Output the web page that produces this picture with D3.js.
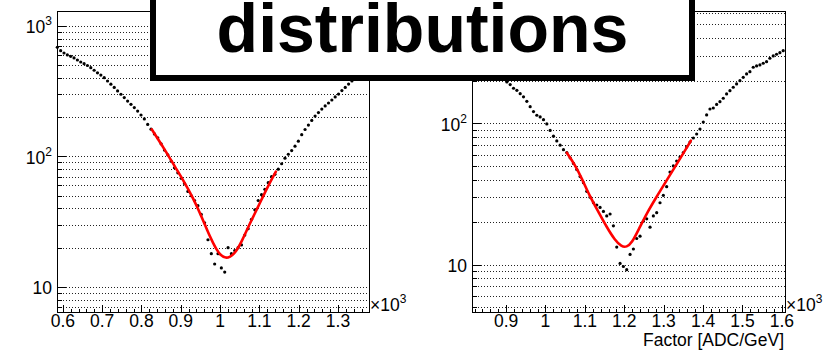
<!DOCTYPE html>
<html>
<head>
<meta charset="utf-8">
<script src="https://cdn.jsdelivr.net/npm/d3@7"></script>
<style>
  body { margin: 0; background: #fff; }
  svg { display: block; }
  text { font-family: "Liberation Sans", Arial, Helvetica, sans-serif; fill: #000; }
</style>
</head>
<body>
<svg id="chart" width="824" height="354"></svg>
<script>
// ---- left histogram (x in units of 10^3) ----
const leftX0 = 0.5858;
const leftBinW = 0.00852;
const leftCounts = [
  687, 647, 621, 600, 586, 569, 549, 530, 514, 498,
  479, 458, 438, 421, 402, 379, 358, 338, 318, 300,
  283, 266, 251, 237, 223, 208, 194, 176, 162, 149,
  139, 125, 112, 103, 92, 82, 75, 68, 62, 54,
  50, 46, 42, 36, 31, 23, 18, 15, 18, 14,
  13, 20, 18, 19, 20, 21, 25, 28, 33, 39,
  46, 51, 56, 63, 70, 73, 80, 88, 97, 104,
  111, 120, 131, 147, 161, 174, 189, 204, 217, 231,
  244, 257, 271, 286, 301, 320, 338, 359, 379, 400,
  421, 444, 468, 494
];
const leftFitX = [0.826, 0.860, 0.885, 0.906, 0.932, 0.953, 0.974, 0.991, 1.002, 1.015, 1.025, 1.038, 1.055, 1.076, 1.097, 1.119, 1.142];
const leftFitY = [161.6, 112.1, 83.5, 66.1, 47.8, 34.6, 24.3, 19.2, 17.4, 16.6, 17.0, 18.1, 22.2, 30.8, 41.2, 57.1, 76.5];
const leftXTicks = [0.6, 0.7, 0.8, 0.9, 1.0, 1.1, 1.2, 1.3];
const leftYTicks = [10, 100, 1000];

// ---- right histogram ----
const rightX0 = 0.8175;
const rightBinW = 0.00845;
const rightCounts = [
  320, 304, 290, 276, 263, 250, 238, 227, 216, 206,
  196, 188, 177, 171, 162, 154, 143, 131, 121, 114,
  111, 106, 99, 89, 81, 75, 70, 65, 62, 57,
  52, 47, 42, 38, 33, 30, 27.4, 26.4, 25.4, 23.8,
  22.1, 22.8, 18.8, 13.3, 10.2, 9.7, 9.2, 11.8, 12.9, 15.3,
  15.9, 20.3, 21.1, 18.4, 22.1, 23.3, 27.4, 30.9, 35.6, 45.2,
  49.9, 54.1, 57.7, 62.1, 68, 73.7, 78.7, 84, 91.1, 102,
  114.5, 126.2, 128.3, 135.9, 142.2, 150.3, 161.3, 170.1, 179.8, 189.8,
  200.2, 211.6, 223.4, 231.9, 249.1, 254.4, 258.6, 265.9, 272.9, 288.4,
  299.5, 307.9, 316, 326.5
];
const rightFitX = [1.054, 1.075, 1.092, 1.113, 1.134, 1.155, 1.176, 1.193, 1.206, 1.219, 1.236, 1.257, 1.282, 1.308, 1.329, 1.350, 1.369];
const rightFitY = [61.9, 50.7, 40.8, 30.2, 23.7, 18.5, 14.9, 13.4, 13.3, 14.2, 17.6, 23.1, 30.2, 39.7, 49.3, 61.3, 75.3];
const rightXTicks = [0.9, 1.0, 1.1, 1.2, 1.3, 1.4, 1.5, 1.6];
const rightYTicks = [10, 100];

const titleText = 'distributions';
const xTitle = 'Factor [ADC/GeV]';

const svg = d3.select('#chart');

const panels = [
  {
    left: 57, right: 369, top: 11, bottom: 312,
    xDomain: [0.585, 1.379], yDomain: [6.43, 1303],
    x0: leftX0, binW: leftBinW, counts: leftCounts,
    fitX: leftFitX, fitY: leftFitY,
    xTicks: leftXTicks, yTicks: leftYTicks, xTitle: null
  },
  {
    left: 472, right: 785, top: 11, bottom: 312,
    xDomain: [0.8135, 1.6079], yDomain: [4.62, 623],
    x0: rightX0, binW: rightBinW, counts: rightCounts,
    fitX: rightFitX, fitY: rightFitY,
    xTicks: rightXTicks, yTicks: rightYTicks, xTitle: xTitle
  }
];

const labelSize = 17.5;
const supSize = 12;

function drawPanel(p) {
    const x = d3.scaleLinear().domain(p.xDomain).range([p.left, p.right]);
    const y = d3.scaleLog().domain(p.yDomain).range([p.bottom, p.top]);
    const g = svg.append('g');

    // dotted horizontal grid on every log tick
    const gridVals = y.ticks().filter(v => v >= p.yDomain[0] && v <= p.yDomain[1]);
    g.append('g')
        .attr('stroke', '#222')
        .attr('stroke-width', 1)
        .attr('stroke-dasharray', '1,2')
        .attr('shape-rendering', 'crispEdges')
        .selectAll('line')
        .data(gridVals)
        .join('line')
        .attr('x1', p.left)
        .attr('x2', p.right)
        .attr('y1', d => Math.round(y(d)) + 0.5)
        .attr('y2', d => Math.round(y(d)) + 0.5);

    // histogram points
    const pts = p.counts.map((c, i) => ({ x: p.x0 + i * p.binW, y: c }));
    g.append('g')
        .selectAll('circle')
        .data(pts)
        .join('circle')
        .attr('cx', d => x(d.x))
        .attr('cy', d => y(d.y))
        .attr('r', 1.6)
        .attr('fill', '#000');

    // fit
    const fit = p.fitX.map((v, i) => [v, p.fitY[i]]);
    g.append('path')
        .datum(fit)
        .attr('fill', 'none')
        .attr('stroke', '#ff0000')
        .attr('stroke-width', 2.6)
        .attr('stroke-linecap', 'round')
        .attr('d', d3.line().x(d => x(d[0])).y(d => y(d[1])).curve(d3.curveBasis));

    // frame
    g.append('rect')
        .attr('x', p.left + 0.5)
        .attr('y', p.top + 0.5)
        .attr('width', p.right - p.left)
        .attr('height', p.bottom - p.top)
        .attr('fill', 'none')
        .attr('stroke', '#000')
        .attr('stroke-width', 1);

    // y axis ticks (inward)
    const yMinor = gridVals.filter(v => !p.yTicks.includes(v));
    const yMinorAxis = g.append('g')
        .attr('transform', `translate(${p.left + 0.5},0)`)
        .call(d3.axisLeft(y).tickValues(yMinor).tickSize(-4).tickSizeOuter(0).tickFormat(''));
    const yMajorAxis = g.append('g')
        .attr('transform', `translate(${p.left + 0.5},0)`)
        .call(d3.axisLeft(y).tickValues(p.yTicks).tickSize(-8).tickSizeOuter(0).tickFormat(''));
    [yMinorAxis, yMajorAxis].forEach(a => {
        a.select('.domain').remove();
        a.selectAll('line').attr('shape-rendering', 'crispEdges');
    });

    // y labels 10, 10^2, 10^3
    p.yTicks.forEach(v => {
        const e = Math.round(Math.log10(v));
        const t = g.append('text')
            .attr('x', p.left - 5)
            .attr('y', y(v) + 7.5)
            .attr('text-anchor', 'end')
            .attr('font-size', labelSize);
        if (e === 1) {
            t.text('10');
        } else {
            t.append('tspan').text('10');
            t.append('tspan').attr('dy', -8).attr('font-size', supSize).text(String(e));
        }
    });

    // x axis ticks (inward)
    const step = 0.02;
    const xMinor = d3.range(Math.ceil(p.xDomain[0] / step), Math.floor(p.xDomain[1] / step) + 1)
        .map(k => +(k * step).toFixed(2))
        .filter(v => !p.xTicks.some(t => Math.abs(t - v) < 1e-6));
    const xMinorAxis = g.append('g')
        .attr('transform', `translate(0,${p.bottom + 0.5})`)
        .call(d3.axisBottom(x).tickValues(xMinor).tickSize(-4).tickSizeOuter(0).tickFormat(''));
    const xMajorAxis = g.append('g')
        .attr('transform', `translate(0,${p.bottom + 0.5})`)
        .call(d3.axisBottom(x).tickValues(p.xTicks).tickSize(-8).tickSizeOuter(0).tickFormat(''));
    [xMinorAxis, xMajorAxis].forEach(a => {
        a.select('.domain').remove();
        a.selectAll('line').attr('shape-rendering', 'crispEdges');
    });

    g.append('g')
        .selectAll('text')
        .data(p.xTicks)
        .join('text')
        .attr('x', d => x(d))
        .attr('y', p.bottom + 15)
        .attr('text-anchor', 'middle')
        .attr('font-size', labelSize)
        .text(d => String(+d.toFixed(1)));

    // x10^3 multiplier
    const m = g.append('text')
        .attr('x', p.right + 1)
        .attr('y', p.bottom - 1)
        .attr('font-size', labelSize);
    m.append('tspan').text('\u00d710');
    m.append('tspan').attr('dy', -8).attr('font-size', supSize).text('3');

    if (p.xTitle) {
        g.append('text')
            .attr('x', p.right - 1)
            .attr('y', p.bottom + 34)
            .attr('text-anchor', 'end')
            .attr('font-size', 17.5)
            .text(p.xTitle);
    }
}

panels.forEach(drawPanel);

// title box over both pads
const tb = svg.append('g');
tb.append('rect')
    .attr('x', 153)
    .attr('y', -10)
    .attr('width', 539)
    .attr('height', 88)
    .attr('fill', '#fff')
    .attr('stroke', '#000')
    .attr('stroke-width', 6);
tb.append('text')
    .attr('x', 422.5)
    .attr('y', 52)
    .attr('text-anchor', 'middle')
    .attr('font-size', 68)
    .attr('font-weight', 'bold')
    .text(titleText);
</script>
</body>
</html>
